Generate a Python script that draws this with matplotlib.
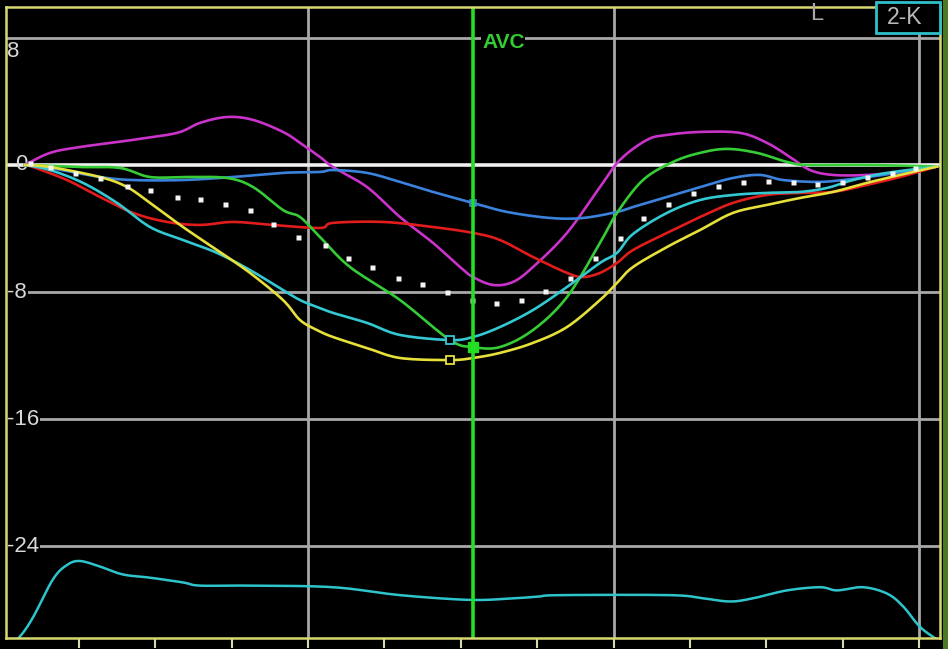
import numpy as np
import matplotlib
matplotlib.use("Agg")
import matplotlib.pyplot as plt
from matplotlib.patches import Rectangle

# ---- data (x = time in ms, y = strain %) ----
mag_x = [22, 47, 77, 130, 174, 197, 224, 250, 280, 297, 317, 330, 364, 397, 430, 457, 470, 490, 510, 530, 564, 597, 617, 644, 664, 697, 737, 764, 787, 807, 830, 864, 897, 934]
mag_y = [0, 0.76, 1.13, 1.58, 2.02, 2.65, 3.02, 2.84, 2.08, 1.39, 0.50, -0.13, -1.39, -3.28, -4.91, -6.43, -7.06, -7.56, -7.37, -6.43, -4.28, -1.39, 0.32, 1.58, 1.89, 2.08, 2.02, 1.39, 0.50, -0.32, -0.63, -0.63, -0.44, -0.1]

grn_x = [22, 77, 117, 147, 184, 224, 250, 280, 297, 317, 347, 397, 447, 470, 497, 530, 564, 597, 614, 640, 670, 697, 724, 754, 784, 804, 864, 934]
grn_y = [0, -0.13, -0.19, -0.76, -0.76, -0.82, -1.39, -2.84, -3.28, -4.54, -6.43, -8.51, -11.03, -11.47, -11.47, -10.40, -8.32, -4.91, -3.02, -0.95, 0.19, 0.76, 1.01, 0.76, 0.19, 0, 0, -0.1]

blu_x = [22, 47, 97, 130, 180, 230, 280, 317, 330, 364, 397, 430, 470, 504, 547, 580, 614, 630, 664, 697, 730, 757, 780, 814, 840, 880, 934]
blu_y = [0, -0.19, -0.76, -0.95, -0.95, -0.76, -0.50, -0.44, -0.32, -0.50, -1.07, -1.70, -2.39, -2.96, -3.34, -3.34, -2.96, -2.65, -2.02, -1.39, -0.82, -0.63, -0.95, -1.07, -0.95, -0.63, -0.1]

red_x = [22, 30, 64, 97, 130, 164, 197, 230, 270, 317, 330, 380, 430, 470, 497, 530, 564, 580, 597, 614, 630, 664, 697, 730, 764, 797, 830, 864, 897, 934]
red_y = [0, -0.13, -0.95, -2.02, -3.02, -3.59, -3.78, -3.59, -3.78, -3.97, -3.65, -3.59, -3.91, -4.28, -4.73, -5.80, -6.80, -7.06, -6.80, -6.17, -5.36, -4.28, -3.28, -2.39, -1.89, -1.76, -1.70, -1.26, -0.76, -0.1]

cyn_x = [22, 47, 80, 114, 147, 180, 214, 247, 280, 297, 314, 330, 364, 397, 447, 470, 497, 530, 564, 597, 614, 630, 664, 697, 730, 764, 797, 824, 850, 884, 934]
cyn_y = [0, -0.32, -1.13, -2.39, -3.91, -4.73, -5.54, -6.62, -7.88, -8.51, -8.95, -9.32, -9.95, -10.71, -11.03, -10.84, -10.21, -9.14, -7.69, -6.17, -5.54, -4.35, -3.02, -2.21, -1.89, -1.76, -1.70, -1.45, -0.95, -0.50, -0.1]

yel_x = [22, 47, 97, 124, 147, 180, 214, 247, 280, 297, 314, 330, 364, 397, 447, 470, 497, 530, 564, 597, 614, 630, 664, 697, 730, 764, 797, 830, 864, 897, 934]
yel_y = [0, -0.13, -0.76, -1.39, -2.39, -3.91, -5.36, -6.80, -8.51, -9.77, -10.40, -10.84, -11.53, -12.16, -12.29, -12.16, -11.84, -11.21, -10.21, -8.51, -7.43, -6.43, -5.17, -4.10, -3.02, -2.52, -2.08, -1.70, -1.13, -0.63, -0.1]

avg_x = [27, 47, 72, 97, 124, 147, 174, 197, 222, 247, 270, 295, 322, 345, 369, 395, 419, 444, 469, 493, 518, 542, 567, 592, 617, 640, 665, 690, 715, 740, 765, 790, 814, 839, 864, 889, 912]
avg_y = [0.13, -0.13, -0.50, -0.82, -1.32, -1.58, -2.02, -2.14, -2.46, -2.84, -3.72, -4.54, -5.04, -5.86, -6.43, -7.12, -7.50, -8.00, -8.51, -8.69, -8.51, -7.94, -7.12, -5.86, -4.60, -3.34, -2.46, -1.76, -1.32, -1.07, -1.01, -1.07, -1.20, -1.07, -0.76, -0.50, -0.19]

ecg_x = [4, 17, 30, 50, 64, 77, 97, 120, 147, 180, 197, 247, 330, 397, 467, 510, 534, 557, 667, 700, 727, 750, 784, 817, 834, 860, 884, 900, 917, 934]
ecg_y = [-30.4, -29.7, -28.5, -26.1, -25.2, -24.95, -25.3, -25.8, -26.0, -26.3, -26.5, -26.5, -26.6, -27.1, -27.4, -27.3, -27.2, -27.1, -27.1, -27.3, -27.5, -27.3, -26.8, -26.6, -26.8, -26.6, -27.0, -27.8, -29.1, -29.9]

avc_time = 470
grid_y = [8, -8, -16, -24]
y_labels = ["8", "0", "-8", "-16", "-24"]
y_label_vals = [8, 0, -8, -16, -24]

FONT = "Liberation Sans"


def smooth(xs, ys, n=12):
    """Catmull-Rom rendering of the measured points (passes through every point)."""
    P = np.column_stack([xs, ys]).astype(float)
    P = np.vstack([P[0], P, P[-1]])
    out = []
    t = np.linspace(0, 1, n, endpoint=False)[:, None]
    for i in range(1, len(P) - 2):
        p0, p1, p2, p3 = P[i - 1], P[i], P[i + 1], P[i + 2]
        seg = 0.5 * ((2 * p1) + (-p0 + p2) * t + (2 * p0 - 5 * p1 + 4 * p2 - p3) * t ** 2
                     + (-p0 + 3 * p1 - 3 * p2 + p3) * t ** 3)
        out.append(seg)
    out.append(P[-2][None, :])
    S = np.vstack(out)
    return S[:, 0], S[:, 1]


# ---- figure ----
W, H = 948, 649
fig = plt.figure(figsize=(W / 100, H / 100), dpi=100, facecolor="black")
ax = fig.add_axes([6 / W, 11 / H, 934 / W, 631 / H], facecolor="black")
ax.set_xlim(3, 937)
ax.set_ylim(-29.8, 9.95)

# olive strip at the right edge
fig.patches.append(Rectangle((943 / W, 0), 5 / W, 1, transform=fig.transFigure,
                             facecolor="#4a7a22", edgecolor="none", zorder=0))

gray = "#a8a8a8"
for gy in grid_y:
    ax.axhline(gy, color=gray, lw=2.0, zorder=1)
tick_step = 76.35
ticks = np.arange(1, 13) * tick_step - 0.3
for k, t in enumerate(ticks):
    if (k + 1) % 4 == 0:
        ax.axvline(t, color=gray, lw=2.0, zorder=1)
ax.axhline(0, color="#f0f0f0", lw=2.6, zorder=2)

# y labels
for lab, v in zip(y_labels, y_label_vals):
    if v == 8:
        xpos, ypos = 4, v - 0.85
    elif v == 0:
        xpos, ypos = 12, v
    else:
        xpos, ypos = 4.5, v - 0.05
    ax.text(xpos, ypos, lab, color="#d8d8d8", fontsize=16, family=FONT,
            ha="left", va="center", zorder=3,
            bbox=dict(facecolor="black", edgecolor="none", pad=0.5) if v != 0 else None)

lw = 1.9
ax.plot(*smooth(ecg_x, ecg_y), color="#2ec4cc", lw=1.8, zorder=4)
ax.plot(*smooth(mag_x, mag_y), color="#c933c9", lw=lw, zorder=5)
ax.plot(*smooth(blu_x, blu_y), color="#3a82dc", lw=lw, zorder=5)
ax.plot(*smooth(red_x, red_y), color="#e01c1c", lw=lw, zorder=5)
ax.plot(*smooth(grn_x, grn_y), color="#36cc36", lw=lw, zorder=5)
ax.plot(*smooth(cyn_x, cyn_y), color="#33c8d2", lw=lw, zorder=5)
ax.plot(*smooth(yel_x, yel_y), color="#e6e03a", lw=lw, zorder=5)
ax.plot(avg_x, avg_y, ls="none", marker="s", ms=3.6, color="#f4f4f4", mec="none", zorder=6)

# peak markers
ax.plot([cyn_x[14]], [cyn_y[14]], marker="s", ms=6, mfc="black", mec="#33c8d2", mew=1.3, zorder=7)
ax.plot([yel_x[14]], [yel_y[14]], marker="s", ms=6, mfc="black", mec="#e6e03a", mew=1.3, zorder=7)
ax.plot([grn_x[13]], [grn_y[13]], marker="s", ms=7, color="#22dd22", zorder=7)
ax.plot([blu_x[12]], [blu_y[12]], marker="s", ms=5, mfc="none", mec="#3a82dc", mew=1.2, zorder=7)

# AVC line
ax.axvline(avc_time, color="#22e022", lw=2.6, zorder=8)
ax.text(avc_time + 9, 7.7, "AVC", color="#33cc33", fontsize=15, fontweight="bold", family=FONT,
        ha="left", va="center", zorder=9,
        bbox=dict(facecolor="black", edgecolor="none", pad=0.5))

# frame
for s in ax.spines.values():
    s.set_color("#d8d870")
    s.set_linewidth(1.8)
    s.set_zorder(12)
ax.set_yticks([])
ax.set_xticks(ticks)
ax.tick_params(axis="x", direction="out", length=7, width=1.5, color="#d8d8b0",
               labelbottom=False)

# top-right decorations
fig.text(810 / W, 1 - 20 / H, "L", color="#a8a8a8", fontsize=17, family=FONT,
         ha="left", va="baseline")
fig.patches.append(Rectangle((876 / W, 1 - 33 / H), 64 / W, 31 / H, transform=fig.transFigure,
                             facecolor="black", edgecolor="#30c0c8", lw=2, zorder=10))
fig.text(905 / W, 1 - 18 / H, "2-K", color="#b8b8b8", fontsize=16.5, family=FONT,
         ha="center", va="center", zorder=11)

fig.savefig("out.png", dpi=100, facecolor="black")
